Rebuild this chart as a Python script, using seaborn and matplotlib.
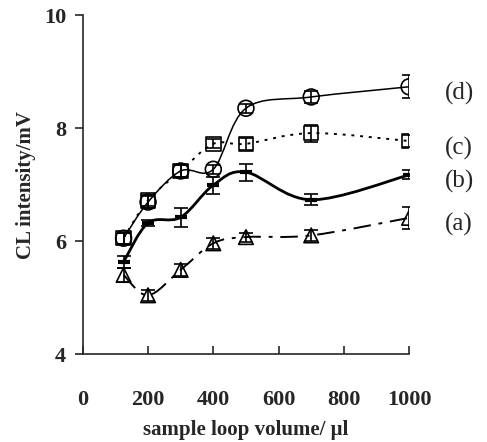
import matplotlib
matplotlib.use("Agg")
import matplotlib.pyplot as plt
import matplotlib.transforms as mtransforms
import numpy as np
import pandas as pd
import seaborn as sns
from matplotlib.path import Path
from matplotlib.patches import PathPatch

# loop volumes (ul)
volume = [125, 200, 300, 400, 500, 700, 1000]

# CL intensity (mV) for the four curves
curve_d = [6.05, 6.69, 7.24, 7.27, 8.35, 8.55, 8.73]
err_d = [0.10, 0.10, 0.10, 0.08, 0.08, 0.10, 0.20]
curve_c = [6.05, 6.72, 7.24, 7.72, 7.72, 7.91, 7.77]
err_c = [0.10, 0.10, 0.10, 0.08, 0.10, 0.15, 0.10]
curve_b = [5.63, 6.32, 6.42, 6.99, 7.22, 6.73, 7.17]
err_b = [0.10, 0.05, 0.17, 0.15, 0.15, 0.10, 0.08]
curve_a = [5.40, 5.04, 5.49, 5.96, 6.07, 6.10, 6.41]
err_a = [0.12, 0.10, 0.10, 0.10, 0.08, 0.10, 0.20]

series = [
    ("(d)", curve_d, err_d, "o", (0, ()), 1.1),
    ("(c)", curve_c, err_c, "s", (0, (1.5, 3)), 1.4),
    ("(b)", curve_b, err_b, None, (0, ()), 2.0),
    ("(a)", curve_a, err_a, "^", (0, (9, 4, 2, 4)), 1.4),
]


def smooth_path(xs, ys):
    # catmull-rom segments drawn as cubic beziers (like a spreadsheet "smoothed line")
    pts = np.column_stack([xs, ys]).astype(float)
    verts = [pts[0]]
    codes = [Path.MOVETO]
    n = len(pts)
    for i in range(n - 1):
        p0 = pts[i - 1] if i > 0 else pts[i]
        p1, p2 = pts[i], pts[i + 1]
        p3 = pts[i + 2] if i + 2 < n else pts[i + 1]
        verts += [p1 + (p2 - p0) / 6, p2 - (p3 - p1) / 6, p2]
        codes += [Path.CURVE4] * 3
    return Path(verts, codes)


sns.set_style("ticks")
plt.rcParams["font.family"] = ["Liberation Serif", "DejaVu Serif"]

fig = plt.figure(figsize=(4.87, 4.42), dpi=100)
ax = fig.add_axes([0.170, 0.199, 0.670, 0.767])

label_shift = mtransforms.offset_copy(ax.transData, fig=fig, x=0, y=-5, units="points")

for name, vals, errs, mk, ls, lw in series:
    ax.add_patch(PathPatch(smooth_path(volume, vals), fill=False, edgecolor="black",
                           lw=lw, linestyle=ls, zorder=2))
    ax.errorbar(volume, vals, yerr=errs, fmt="none", ecolor="black", elinewidth=1.2,
                capsize=5, capthick=1.2, zorder=3)
    df = pd.DataFrame({"x": volume, "y": vals})
    if mk is not None:
        size = 130 if mk == "o" else 110
        sns.scatterplot(data=df, x="x", y="y", marker=mk, s=size, facecolors="none",
                        edgecolor="black", linewidth=1.2, ax=ax, zorder=4)
    else:
        ax.plot(volume, vals, linestyle="none", marker="_", markersize=8, mew=3,
                color="black", zorder=4)
    ax.text(1110, vals[-1], name, fontsize=18, va="center", ha="left",
            transform=label_shift, clip_on=False)

ax.set_xlim(0, 1000)
ax.set_ylim(4, 10)
ax.set_xticks([0, 200, 400, 600, 800, 1000])
ax.set_yticks([4, 6, 8, 10])
ax.tick_params(axis="y", direction="out", length=6, width=1.2, labelsize=16, pad=6)
ax.tick_params(axis="x", direction="in", length=6, width=1.2, labelsize=16, pad=26)
for lab in ax.get_xticklabels() + ax.get_yticklabels():
    lab.set_fontweight("bold")
sns.despine(ax=ax)
for sp in ["left", "bottom"]:
    ax.spines[sp].set_linewidth(1.2)

ax.set_xlabel("sample loop volume/ \u03bcl", fontsize=15, fontweight="bold", labelpad=7)
ax.set_ylabel("CL intensity/mV", fontsize=15, fontweight="bold", labelpad=6)

fig.savefig("out.png", dpi=100)
